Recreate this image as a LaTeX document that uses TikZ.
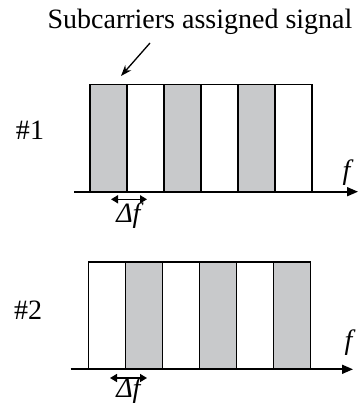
\documentclass[tikz,border=0pt]{standalone}
\usepackage{xcolor}
\usepackage{fontspec}
\setmainfont{Liberation Serif}
\usepackage{tikz}
\usetikzlibrary{arrows.meta, positioning, calc}
\definecolor{sig}{RGB}{200,201,203}

\begin{document}
\begin{tikzpicture}[x=1pt, y=-1pt,
    bar/.style={rectangle, draw=black, line width=1.3pt, minimum width=37pt, minimum height=107pt, inner sep=0pt, fill=white},
    used/.style={bar, fill=sig},
    axis/.style={-{Triangle[length=11pt, width=9pt]}, line width=1.7pt},
    spacing/.style={{Triangle[length=7pt, width=8pt]}-{Triangle[length=7pt, width=8pt]}, line width=1.5pt},
    pointer/.style={-{Stealth[length=11pt, width=8pt]}, line width=1.3pt},
    lbl/.style={font=\fontsize{28}{32}\selectfont, inner sep=0pt}
]
\useasboundingbox (0,0) rectangle (362,403);

% user #1
\foreach \i/\kind in {1/used,2/bar,3/used,4/bar,5/used,6/bar} {
    \node[\kind] (up\i) at ({90+37*(\i-0.5)},138.3) {};
}
\coordinate (ax1s) at (74,191.7);
\coordinate (ax1e) at (358,191.7);
\draw[axis] (ax1s) -- (ax1e);
\node[lbl] (f1) at (348,173) {\textit{f}};
\node[lbl] (n1) at (30,130) {\#1};
\coordinate (d1a) at (111,199.3);
\coordinate (d1b) at (147,199.3);
\draw[spacing] (d1a) -- (d1b);
\node[lbl] (df1) at (130,216) {\textit{Δf}};

% title + pointer
\node[lbl] (title) at (200,22) {Subcarriers assigned signal};
\coordinate (tail) at (150,43);
\coordinate (tip) at (121,76);
\draw[pointer] (tail) -- (tip);

% user #2
\foreach \i/\kind in {1/bar,2/used,3/bar,4/used,5/bar,6/used} {
    \node[\kind] (lo\i) at ({88.5+37*(\i-0.5)},315.5) {};
}
\coordinate (ax2s) at (70.7,369.3);
\coordinate (ax2e) at (353,369.3);
\draw[axis] (ax2s) -- (ax2e);
\node[lbl] (f2) at (350,343) {\textit{f}};
\node[lbl] (n2) at (28,310) {\#2};
\coordinate (d2a) at (110,378);
\coordinate (d2b) at (147,378);
\draw[spacing] (d2a) -- (d2b);
\node[lbl] (df2) at (130,391) {\textit{Δf}};
\end{tikzpicture}
\end{document}
